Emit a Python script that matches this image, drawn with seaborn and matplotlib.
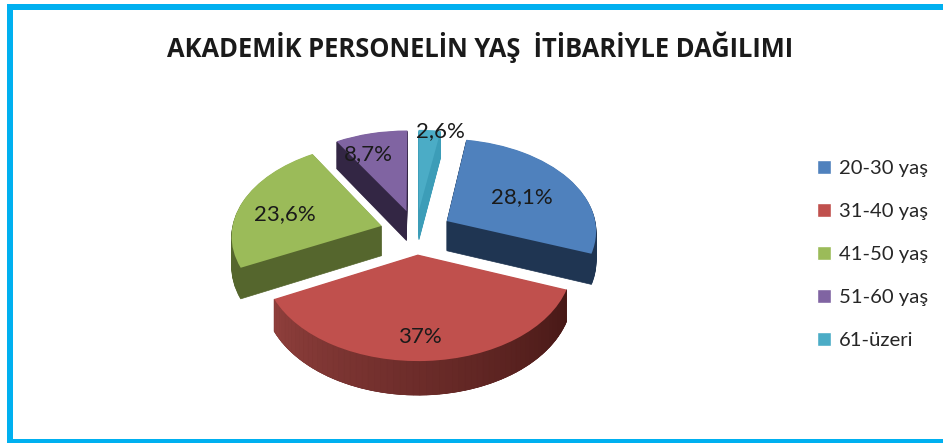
import numpy as np
import matplotlib
matplotlib.use("Agg")
import matplotlib.pyplot as plt
import seaborn as sns
from matplotlib.path import Path
from matplotlib.patches import PathPatch, Polygon, Rectangle

title = "AKADEMİK PERSONELİN YAŞ  İTİBARİYLE DAĞILIMI"
categories = ["20-30 yaş", "31-40 yaş", "41-50 yaş", "51-60 yaş", "61-üzeri"]
values = [28.1, 37, 23.6, 8.7, 2.6]
value_labels = ["28,1%", "37%", "23,6%", "8,7%", "2,6%"]
top_colors = ["#4F81BD", "#C0504D", "#9BBB59", "#8064A2", "#4BACC6"]
side_colors = ["#1F3552", "#5E1F1D", "#55662D", "#332644", "#3C9DB8"]
explode = [0.24, 0.24, 0.24, 0.24, 0.24]

# where the labels sit in the picture
label_spots = [(522, 197), (420, 337), (285, 214), (368, 154), (440, 131)]

sns.set_theme(style="white")
plt.rcParams["font.family"] = ["Lato", "DejaVu Sans"]

fig = plt.figure(figsize=(9.43, 4.43), dpi=100)
ax = fig.add_axes([0, 0, 1, 1])

wedges, texts = ax.pie(values, explode=explode, startangle=80.6, counterclock=False,
                       colors=top_colors, labels=value_labels)


# squashed view with a little perspective, front is bigger than back
def project(xy, depth=0):
    x, y = xy[:, 0], xy[:, 1]
    s = 1 / (1 + 0.094 * y)
    return np.column_stack([416 + 150 * x * s, 232 + (depth - 92 * y) * s])


shapes = [w.get_path() for w in wedges]
red = wedges[1]
red_angles = np.radians(np.linspace(red.theta1, red.theta2, 61))
red_arc = np.column_stack([red.center[0] + np.cos(red_angles), red.center[1] + np.sin(red_angles)])
for w in wedges:
    w.remove()
ax.set_aspect("auto")
ax.set_xlim(0, 943)
ax.set_ylim(443, 0)
ax.axis("on")
ax.set_xticks([])
ax.set_yticks([])
for s in ax.spines.values():
    s.set_visible(False)

for depth in range(30, 0, -1):
    for p, c in zip(shapes, side_colors):
        ax.add_patch(PathPatch(Path(project(p.vertices, depth), p.codes), fc=c, ec=c, lw=0.5))

# red rim goes from lighter on the left to dark on the right
low = project(red_arc, 30)
high = project(red_arc)
left_rim = np.array(matplotlib.colors.to_rgb("#8F3F3C"))
right_rim = np.array(matplotlib.colors.to_rgb("#471816"))
order = np.argsort(low[:, 0])
low, high = low[order], high[order]
for i in range(len(low) - 1):
    t = i / (len(low) - 2)
    c = left_rim + (right_rim - left_rim) * t
    ax.add_patch(Polygon([high[i], high[i + 1], low[i + 1], low[i]], fc=c, ec=c, lw=0.5))

for p, c in zip(shapes, top_colors):
    ax.add_patch(PathPatch(Path(project(p.vertices), p.codes), fc=c, ec="none"))

for t, xy in zip(texts, label_spots):
    t.set_position(xy)
    t.set_ha("center")
    t.set_va("center")
    t.set_fontsize(16)
    t.set_color("#1a1a1a")
    t.set_zorder(5)

# frame has no right side in the original
border = "#00B0F0"
ax.add_patch(Rectangle((7, 4), 6, 439, fc=border, ec="none"))
ax.add_patch(Rectangle((7, 4), 936, 6, fc=border, ec="none"))
ax.add_patch(Rectangle((7, 439), 936, 4, fc=border, ec="none"))

ax.text(480, 47, title, ha="center", va="center", fontsize=18.4, fontweight="bold",
        color="#1a1a1a", family=["Open Sans", "DejaVu Sans"])

handles = [Rectangle((0, 0), 1, 1, fc=c) for c in top_colors]
fig.legend(handles, categories, loc="upper left", bbox_to_anchor=(817 / 943, 1 - 160 / 443), frameon=False,
           fontsize=14.6, handlelength=0.69, handleheight=0.69, handletextpad=0.39, labelspacing=1.27,
           borderpad=0, borderaxespad=0, labelcolor="#262626")

fig.savefig("out.png", dpi=100)
